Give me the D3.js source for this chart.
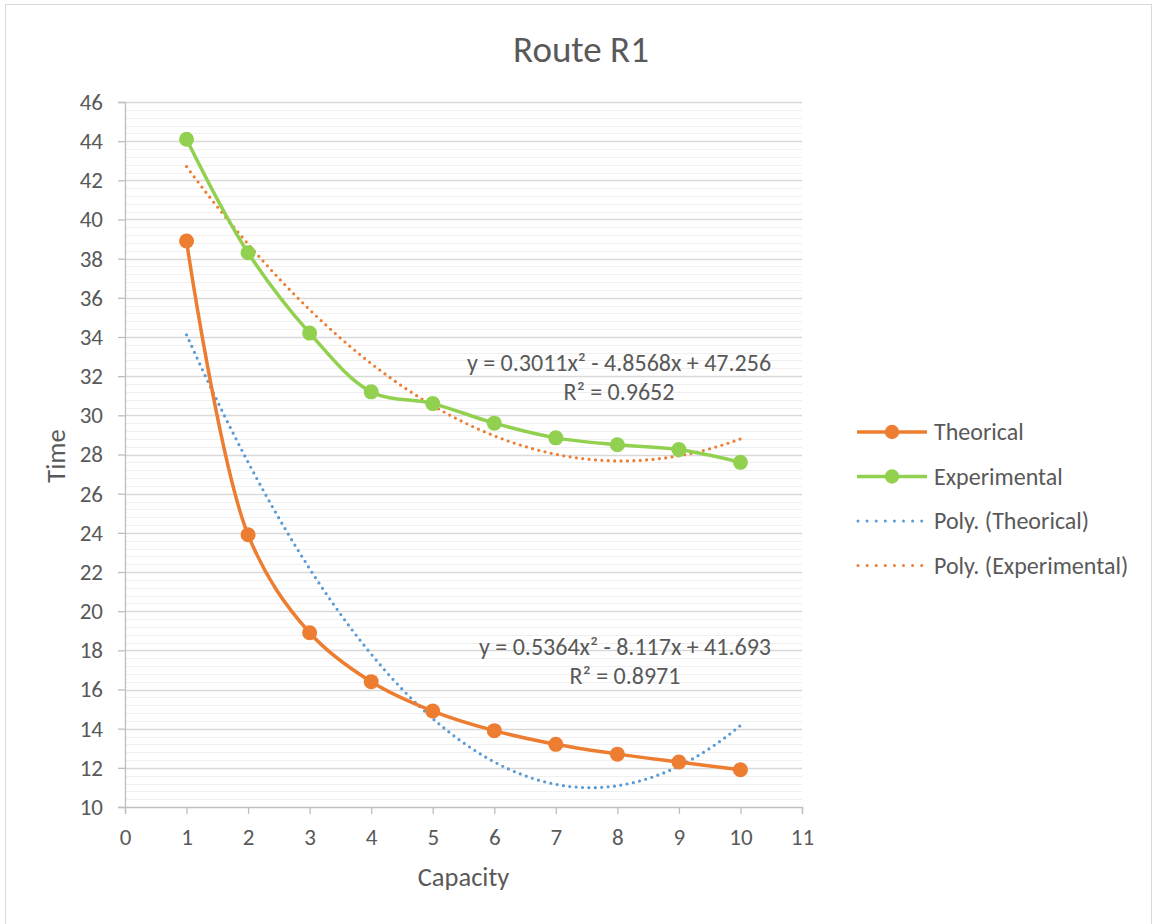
<!DOCTYPE html>
<html>
<head>
<meta charset="utf-8">
<script src="https://cdn.jsdelivr.net/npm/d3@7"></script>
<style>
  html, body { margin: 0; padding: 0; background: #fff; }
  svg text { font-family: Carlito, Calibri, Lato, "Open Sans", sans-serif; fill: #595959; }
</style>
</head>
<body>
<svg id="chart" width="1155" height="924"></svg>
<script>
// Capacity values (x) shared by both series
const capacity = [1, 2, 3, 4, 5, 6, 7, 8, 9, 10];
// Travel time per capacity
const theorical = [38.9, 23.9, 18.9, 16.4, 14.9, 13.9, 13.2, 12.7, 12.3, 11.9];
const experimental = [44.1, 38.3, 34.2, 31.2, 30.6, 29.6, 28.85, 28.5, 28.25, 27.6];
// Second-order polynomial trend coefficients [a, b, c] for y = a x^2 + b x + c
const polyTheorical = [0.5364, -8.117, 41.693];
const polyExperimental = [0.3011, -4.8568, 47.256];
const r2Theorical = "0.8971";
const r2Experimental = "0.9652";
// Axis ticks
const xTicks = [0, 1, 2, 3, 4, 5, 6, 7, 8, 9, 10, 11];
const yTicks = [10, 12, 14, 16, 18, 20, 22, 24, 26, 28, 30, 32, 34, 36, 38, 40, 42, 44, 46];
const legendLabels = ["Theorical", "Experimental", "Poly. (Theorical)", "Poly. (Experimental)"];

const ORANGE = "#ED7D31", GREEN = "#92D050", BLUE = "#5B9BD5";
const FONT = "Carlito, Calibri, Lato, 'Open Sans', sans-serif";

const svg = d3.select("#chart");

// outer chart frame
svg.append("rect").attr("x", 5.5).attr("y", 4.5).attr("width", 1146).attr("height", 930)
  .attr("fill", "none").attr("stroke", "#D9D9D9").attr("stroke-width", 1);

const x = d3.scaleLinear().domain([0, 11]).range([125, 802]);
const y = d3.scaleLinear().domain([10, 46]).range([807, 102]);

// minor gridlines every 0.4
const minor = d3.range(10.4, 46, 0.4).filter(v => Math.abs(v / 2 - Math.round(v / 2)) > 0.01);
svg.append("g").selectAll("line").data(minor).join("line")
  .attr("x1", x(0)).attr("x2", x(11))
  .attr("y1", d => Math.round(y(d)) + 0.5).attr("y2", d => Math.round(y(d)) + 0.5)
  .attr("stroke", "#F0F0F0").attr("stroke-width", 1);

// major gridlines
svg.append("g").selectAll("line").data(yTicks.slice(1)).join("line")
  .attr("x1", x(0)).attr("x2", x(11))
  .attr("y1", d => Math.round(y(d)) + 0.5).attr("y2", d => Math.round(y(d)) + 0.5)
  .attr("stroke", "#D9D9D9").attr("stroke-width", 1.3);

// axes
const yAxis = svg.append("g").attr("transform", `translate(${x(0)},0)`)
  .call(d3.axisLeft(y).tickValues(yTicks).tickSize(7).tickPadding(15));
const xAxis = svg.append("g").attr("transform", `translate(0,${y(10)})`)
  .call(d3.axisBottom(x).tickValues(xTicks).tickSize(7).tickPadding(15));
[xAxis, yAxis].forEach(g => {
  g.select(".domain").attr("stroke", "#BFBFBF").attr("stroke-width", 1.3);
  g.selectAll(".tick line").attr("stroke", "#BFBFBF").attr("stroke-width", 1.3);
  g.selectAll(".tick text").attr("font-size", 23).attr("fill", "#595959").style("font-family", FONT);
});

// trendlines (dotted)
const polyLine = coef => d3.range(1, 10.0001, 0.05).map(v => [v, coef[0] * v * v + coef[1] * v + coef[2]]);
const trendGen = d3.line().x(d => x(d[0])).y(d => y(d[1]));
[[polyTheorical, BLUE], [polyExperimental, ORANGE]].forEach(([coef, col]) => {
  svg.append("path").attr("d", trendGen(polyLine(coef)))
    .attr("fill", "none").attr("stroke", col).attr("stroke-width", 3.2)
    .attr("stroke-dasharray", "0 6.4").attr("stroke-linecap", "round");
});

// smoothed series lines with markers
const lineGen = d3.line().x(d => x(d[0])).y(d => y(d[1])).curve(d3.curveCatmullRom.alpha(0.5));
[[experimental, GREEN], [theorical, ORANGE]].forEach(([vals, col]) => {
  const pts = capacity.map((c, i) => [c, vals[i]]);
  svg.append("path").attr("d", lineGen(pts))
    .attr("fill", "none").attr("stroke", col).attr("stroke-width", 3.5).attr("stroke-linejoin", "round");
  svg.append("g").selectAll("circle").data(pts).join("circle")
    .attr("cx", d => x(d[0])).attr("cy", d => y(d[1])).attr("r", 7.5).attr("fill", col);
});

// trendline equation labels
const eqText = coef => `y = ${coef[0]}x² ${coef[1] < 0 ? "-" : "+"} ${Math.abs(coef[1])}x ${coef[2] < 0 ? "-" : "+"} ${Math.abs(coef[2])}`;
[[polyExperimental, r2Experimental, 619, 371], [polyTheorical, r2Theorical, 625, 655]].forEach(([coef, r2, cx, cy]) => {
  svg.append("text").attr("x", cx).attr("y", cy).attr("text-anchor", "middle").attr("font-size", 24).text(eqText(coef));
  svg.append("text").attr("x", cx).attr("y", cy + 29).attr("text-anchor", "middle").attr("font-size", 24).text(`R² = ${r2}`);
});

// title and axis titles
svg.append("text").attr("x", 581).attr("y", 62).attr("text-anchor", "middle").attr("font-size", 37).text("Route R1");
svg.append("text").attr("x", x(5.5)).attr("y", 886).attr("text-anchor", "middle").attr("font-size", 26.5).text("Capacity");
svg.append("text").attr("transform", "translate(65,456) rotate(-90)").attr("text-anchor", "middle").attr("font-size", 26.5).text("Time");

// legend
const legend = svg.append("g");
const legendRows = [
  { label: legendLabels[0], col: ORANGE, dotted: false },
  { label: legendLabels[1], col: GREEN, dotted: false },
  { label: legendLabels[2], col: BLUE, dotted: true },
  { label: legendLabels[3], col: ORANGE, dotted: true }
];
legendRows.forEach((r, i) => {
  const ly = 432 + i * 44.5;
  if (r.dotted) {
    legend.append("line").attr("x1", 858).attr("x2", 922).attr("y1", ly).attr("y2", ly)
      .attr("stroke", r.col).attr("stroke-width", 3).attr("stroke-dasharray", "0 9.1").attr("stroke-linecap", "round");
  } else {
    legend.append("line").attr("x1", 857).attr("x2", 927).attr("y1", ly).attr("y2", ly)
      .attr("stroke", r.col).attr("stroke-width", 3.5);
    legend.append("circle").attr("cx", 892).attr("cy", ly).attr("r", 7.2).attr("fill", r.col);
  }
  legend.append("text").attr("x", 934).attr("y", ly + 8).attr("font-size", 24).text(r.label);
});
</script>
</body>
</html>
